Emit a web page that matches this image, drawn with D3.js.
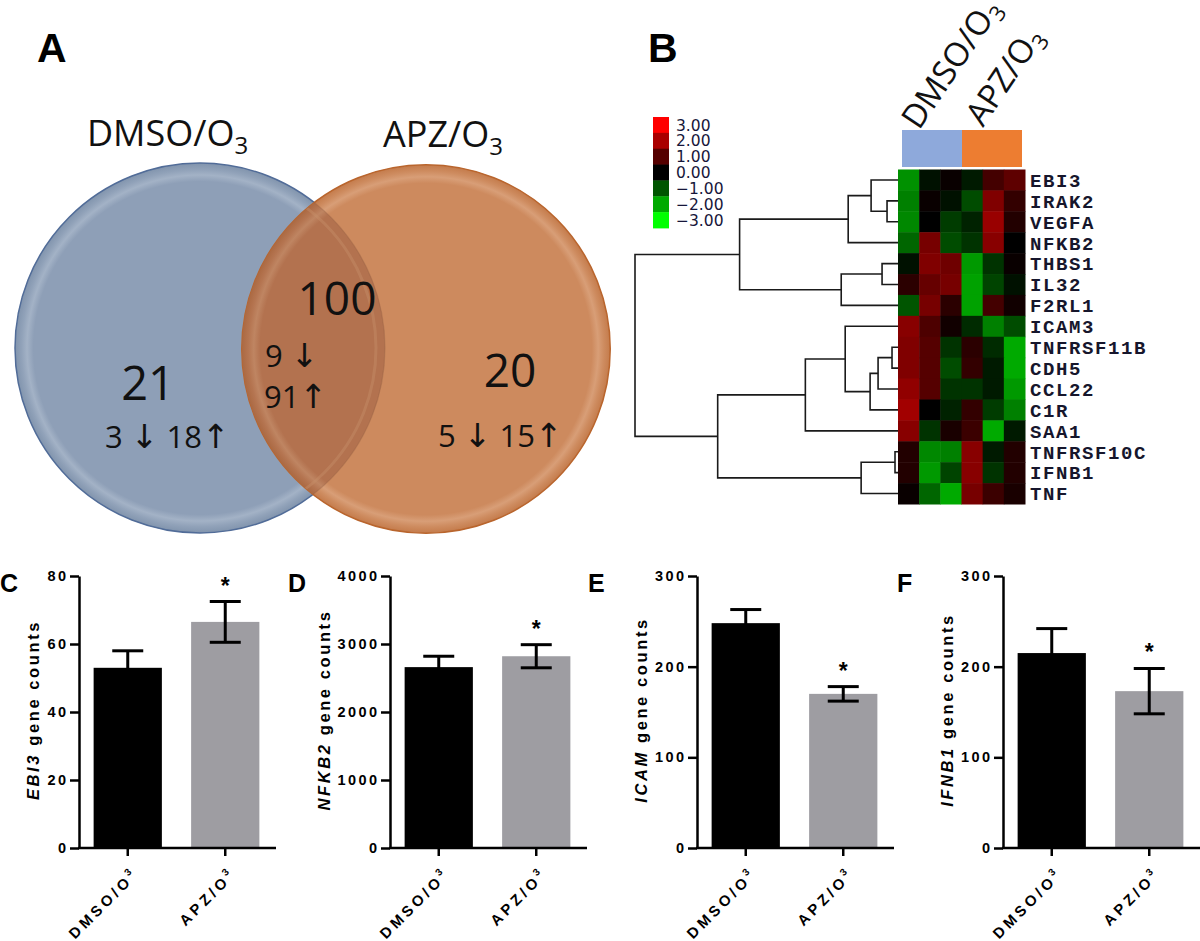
<!DOCTYPE html>
<html><head><meta charset="utf-8">
<script src="https://cdn.jsdelivr.net/npm/d3@7"></script>
<style>body{margin:0;background:#fff;} svg{display:block;}</style>
</head><body>
<svg id="chart" width="1200" height="941"></svg>
<script>
// ---------------- DATA ----------------
// Panel A: Venn
const vennSets = ["DMSO/O", "APZ/O"];
const vennRegions = ["DMSO/O3 only", "shared", "APZ/O3 only"];
const vennTotals = [21, 100, 20];
const vennDown = [3, 9, 5];
const vennUp = [18, 91, 15];

// Panel B: heatmap
const heatGroups = ["DMSO/O", "APZ/O"];
const heatSamples = ["D1", "D2", "D3", "A1", "A2", "A3"];
const heatGenes = ["EBI3", "IRAK2", "VEGFA", "NFKB2", "THBS1", "IL32", "F2RL1", "ICAM3",
  "TNFRSF11B", "CDH5", "CCL22", "C1R", "SAA1", "TNFRSF10C", "IFNB1", "TNF"];
const heatValues = [
  [-1.7, -0.2, 0.1, -0.3, 0.8, 1.1],
  [-1.5, 0.1, -0.2, -0.9, 1.5, 0.6],
  [-1.6, 0.0, -0.7, -0.4, 1.8, 0.4],
  [-1.2, 1.4, -0.9, -0.6, 1.6, 0.0],
  [-0.2, 1.5, 1.3, -1.8, -0.6, 0.1],
  [0.5, 1.2, 1.4, -1.9, -0.8, -0.2],
  [-1.0, 1.4, 0.5, -1.9, 0.8, 0.2],
  [1.6, 0.9, 0.2, -0.5, -1.5, -0.9],
  [1.5, 1.0, -0.6, 0.5, -0.5, -2.0],
  [1.5, 1.0, -0.9, 0.6, -0.3, -2.0],
  [1.7, 1.0, -0.6, -0.6, -0.3, -1.8],
  [1.9, 0.0, -0.4, 0.6, -0.7, -1.5],
  [1.6, -0.6, 0.3, 0.7, -2.0, -0.3],
  [0.4, -1.6, -1.5, 1.6, -0.3, 0.4],
  [0.4, -1.8, -0.8, 1.6, -0.6, 0.4],
  [0.1, -1.2, -2.0, 1.4, 0.7, 0.3]
];
// hierarchical clustering merges: [childA, childB, distance]
const dendroMerges = [
  ["IRAK2", "VEGFA", 11],
  ["EBI3", "n0", 27],
  ["n1", "NFKB2", 50],
  ["THBS1", "IL32", 16],
  ["n3", "F2RL1", 57],
  ["n2", "n4", 159],
  ["TNFRSF11B", "CDH5", 6],
  ["n6", "CCL22", 20],
  ["n7", "C1R", 28],
  ["ICAM3", "n8", 53],
  ["n9", "SAA1", 93],
  ["TNFRSF10C", "IFNB1", 3],
  ["n11", "TNF", 37],
  ["n10", "n12", 181],
  ["n5", "n13", 264]
];
const legendValues = [3, 2, 1, 0, -1, -2, -3];
const legendLabels = ["3.00", "2.00", "1.00", "0.00", "\u22121.00", "\u22122.00", "\u22123.00"];

// Panels C-F: bar charts
const barCategories = ["DMSO/O", "APZ/O"];
const barSignif = ["", "*"];
const ebi3Mean = [53, 66.5], ebi3Sem = [5, 6], ebi3Ticks = [0, 20, 40, 60, 80];
const nfkb2Mean = [2660, 2820], nfkb2Sem = [160, 170], nfkb2Ticks = [0, 1000, 2000, 3000, 4000];
const icamMean = [248, 170], icamSem = [15, 8], icamTicks = [0, 100, 200, 300];
const ifnb1Mean = [215, 173], ifnb1Sem = [27, 25], ifnb1Ticks = [0, 100, 200, 300];

// ---------------- DRAW ----------------
const svg = d3.select("#chart");
const defs = svg.append("defs");
const venFont = "'Open Sans', 'Liberation Sans', sans-serif";
const arialFont = "'Liberation Sans', Arial, sans-serif";

// ===== Panel A: Venn =====
svg.append("text").attr("x", 37).attr("y", 62).attr("font-family", arialFont)
  .attr("font-weight", "bold").attr("font-size", 41).text("A");

const setSizes = [vennTotals[0] + vennTotals[1], vennTotals[1] + vennTotals[2]];
const rScale = d3.scaleSqrt().domain([0, d3.max(setSizes)]).range([0, 185]);
const vennCenters = [[200, 348], [426, 349]];

function radGrad(id, stops) {
  const g = defs.append("radialGradient").attr("id", id).attr("cx", "50%").attr("cy", "50%").attr("r", "50%");
  stops.forEach(s => g.append("stop").attr("offset", s[0]).attr("stop-color", s[1]));
}
radGrad("gBlue", [["0%", "#8E9FB7"], ["90%", "#8E9FB7"], ["93.5%", "#A3B2C6"], ["96.5%", "#91A2B9"], ["100%", "#8194AD"]]);
radGrad("gOrange", [["0%", "#CD8A5E"], ["90%", "#CD8A5E"], ["93.5%", "#D89E77"], ["96.5%", "#CE8C60"], ["100%", "#C47B4B"]]);
radGrad("gOverlap", [["0%", "#B3724F"], ["90%", "#B3724F"], ["93.5%", "#BF8562"], ["96.5%", "#B57551"], ["100%", "#AB6942"]]);

defs.append("clipPath").attr("id", "clipBlue").append("circle")
  .attr("cx", vennCenters[0][0]).attr("cy", vennCenters[0][1]).attr("r", rScale(setSizes[0]));
defs.append("clipPath").attr("id", "clipOr").append("circle")
  .attr("cx", vennCenters[1][0]).attr("cy", vennCenters[1][1]).attr("r", rScale(setSizes[1]));

const vg = svg.append("g");
vg.append("circle").attr("cx", vennCenters[0][0]).attr("cy", vennCenters[0][1]).attr("r", rScale(setSizes[0]))
  .attr("fill", "url(#gBlue)").attr("stroke", "#516C98").attr("stroke-width", 1.5);
vg.append("circle").attr("cx", vennCenters[1][0]).attr("cy", vennCenters[1][1]).attr("r", rScale(setSizes[1]))
  .attr("fill", "url(#gOrange)").attr("stroke", "#B9652D").attr("stroke-width", 1.5);
vg.append("circle").attr("cx", vennCenters[1][0]).attr("cy", vennCenters[1][1]).attr("r", rScale(setSizes[1]))
  .attr("fill", "url(#gOverlap)").attr("clip-path", "url(#clipBlue)");
vg.append("circle").attr("cx", vennCenters[0][0]).attr("cy", vennCenters[0][1]).attr("r", rScale(setSizes[0]) - 9)
  .attr("fill", "none").attr("stroke", "#C9916C").attr("stroke-opacity", 0.4).attr("stroke-width", 3)
  .attr("clip-path", "url(#clipOr)");
vg.append("circle").attr("cx", vennCenters[0][0]).attr("cy", vennCenters[0][1]).attr("r", rScale(setSizes[0]))
  .attr("fill", "none").attr("stroke", "#8A5A3E").attr("stroke-opacity", 0.3).attr("stroke-width", 1.2)
  .attr("clip-path", "url(#clipOr)");

// set titles
const setTitlePos = [[87, 146], [383, 147]];
vennSets.forEach((s, i) => {
  const t = svg.append("text").attr("x", setTitlePos[i][0]).attr("y", setTitlePos[i][1])
    .attr("font-family", venFont).attr("font-size", 36).attr("fill", "#111");
  t.append("tspan").text(s);
  t.append("tspan").attr("font-size", 24).attr("dy", 8).text("3");
});

// region numbers
const totalPos = [[148, 400, 47], [337, 315, 46], [510, 387, 46]];
vennTotals.forEach((v, i) => {
  svg.append("text").attr("x", totalPos[i][0]).attr("y", totalPos[i][1]).attr("text-anchor", "middle")
    .attr("font-family", venFont).attr("font-size", totalPos[i][2]).attr("fill", "#111").text(v);
});
const arrowFont = "'DejaVu Sans', sans-serif";
[[0, 105, 448], [2, 438, 447]].forEach(([i, x, yb]) => {
  const t = svg.append("text").attr("x", x).attr("y", yb).attr("font-family", venFont)
    .attr("font-size", 31).attr("fill", "#111");
  t.append("tspan").text(vennDown[i] + " ");
  t.append("tspan").attr("font-family", arrowFont).attr("font-size", 33).text("\u2193");
  t.append("tspan").text("  " + vennUp[i]);
  t.append("tspan").attr("font-family", arrowFont).attr("font-size", 33).text("\u2191");
});
{
  const t1 = svg.append("text").attr("x", 265).attr("y", 367).attr("font-family", venFont)
    .attr("font-size", 31).attr("fill", "#111");
  t1.append("tspan").text(vennDown[1] + " ");
  t1.append("tspan").attr("font-family", arrowFont).attr("font-size", 33).text("\u2193");
  const t2 = svg.append("text").attr("x", 264).attr("y", 408).attr("font-family", venFont)
    .attr("font-size", 31).attr("fill", "#111");
  t2.append("tspan").text(vennUp[1]);
  t2.append("tspan").attr("font-family", arrowFont).attr("font-size", 33).text("\u2191");
}

// ===== Panel B: Heatmap =====
svg.append("text").attr("x", 648).attr("y", 62).attr("font-family", arialFont)
  .attr("font-weight", "bold").attr("font-size", 41).text("B");

const hx = d3.scaleBand().domain(heatSamples).range([898, 1025]);
const hy = d3.scaleBand().domain(heatGenes).range([169.5, 504]);
const hColor = d3.scaleLinear().domain([-3, 0, 3]).range(["#00ff00", "#000000", "#ff0000"]).clamp(true);

const cells = [];
heatValues.forEach((row, r) => row.forEach((v, c) => cells.push({ gene: heatGenes[r], sample: heatSamples[c], v })));
svg.append("g").selectAll("rect").data(cells).join("rect")
  .attr("x", d => hx(d.sample)).attr("y", d => hy(d.gene))
  .attr("width", hx.bandwidth() + 0.5).attr("height", hy.bandwidth() + 0.5)
  .attr("fill", d => hColor(d.v));

const hgx = d3.scaleBand().domain(heatGroups).range([902, 1022]);
const groupColors = ["#8EA9DB", "#ED7D31"];
svg.append("g").selectAll("rect").data(heatGroups).join("rect")
  .attr("x", d => hgx(d)).attr("y", 130).attr("width", hgx.bandwidth()).attr("height", 37)
  .attr("fill", (d, i) => groupColors[i]);
const headPos = [[919, 131], [983, 128]];
heatGroups.forEach((g, i) => {
  const t = svg.append("text").attr("transform", `translate(${headPos[i][0]},${headPos[i][1]}) rotate(-56)`)
    .attr("font-family", venFont).attr("font-size", 33).attr("fill", "#111");
  t.append("tspan").text(g);
  t.append("tspan").attr("font-size", 22).attr("dy", 7).text("3");
});

svg.append("g").selectAll("text").data(heatGenes).join("text")
  .attr("x", 1030).attr("y", d => hy(d) + hy.bandwidth() / 2).attr("dy", "0.36em")
  .attr("font-family", "'Liberation Mono', 'DejaVu Sans Mono', monospace").attr("font-weight", "bold")
  .attr("font-size", 19).attr("letter-spacing", 1.6).attr("fill", "#16162c").text(d => d);

const dx = d3.scaleLinear().domain([0, 264]).range([898, 635]);
const nodePos = {};
heatGenes.forEach(gn => nodePos[gn] = { x: dx(0), y: hy(gn) + hy.bandwidth() / 2 });
const dPaths = [];
dendroMerges.forEach(([a, b, h], i) => {
  const pa = nodePos[a], pb = nodePos[b];
  const nx = dx(h);
  nodePos["n" + i] = { x: nx, y: (pa.y + pb.y) / 2 };
  dPaths.push(`M${pa.x},${pa.y}H${nx}V${pb.y}H${pb.x}`);
});
svg.append("g").selectAll("path").data(dPaths).join("path")
  .attr("d", d => d).attr("fill", "none").attr("stroke", "#1a1a1a").attr("stroke-width", 1.6);

const ly = d3.scaleBand().domain(legendValues).range([117, 228]);
const lg = svg.append("g");
lg.selectAll("rect").data(legendValues).join("rect")
  .attr("x", 653).attr("y", d => ly(d)).attr("width", 16).attr("height", ly.bandwidth() + 0.4)
  .attr("fill", d => hColor(d));
lg.selectAll("text").data(legendValues).join("text")
  .attr("x", 676).attr("y", d => ly(d) + ly.bandwidth() / 2).attr("dy", "0.36em")
  .attr("font-family", "'DejaVu Sans', Verdana, sans-serif").attr("font-size", 15.5)
  .attr("fill", "#16163a").text((d, i) => legendLabels[i]);

// ===== Panels C-F: bar charts =====
const panels = [
  { letter: "C", lx: 0, gene: "EBI3", mean: ebi3Mean, sem: ebi3Sem, ticks: ebi3Ticks, x0: 79 },
  { letter: "D", lx: 288, gene: "NFKB2", mean: nfkb2Mean, sem: nfkb2Sem, ticks: nfkb2Ticks, x0: 390 },
  { letter: "E", lx: 588, gene: "ICAM", mean: icamMean, sem: icamSem, ticks: icamTicks, x0: 697 },
  { letter: "F", lx: 897, gene: "IFNB1", mean: ifnb1Mean, sem: ifnb1Sem, ticks: ifnb1Ticks, x0: 1003 }
];
const barFill = ["#000000", "#9E9DA2"];
const yTop = 576, yBot = 848;

panels.forEach(p => {
  const g = svg.append("g");
  const y = d3.scaleLinear().domain([0, d3.max(p.ticks)]).range([yBot, yTop]);
  const x = d3.scaleBand().domain(barCategories).range([p.x0, p.x0 + 195]).paddingInner(0.3).paddingOuter(0.15);

  g.append("text").attr("x", p.lx).attr("y", 592).attr("font-family", arialFont)
    .attr("font-weight", "bold").attr("font-size", 25).text(p.letter);

  g.selectAll("rect.bar").data(barCategories).join("rect").attr("class", "bar")
    .attr("x", d => x(d)).attr("width", x.bandwidth())
    .attr("y", (d, i) => y(p.mean[i])).attr("height", (d, i) => y(0) - y(p.mean[i]))
    .attr("fill", (d, i) => barFill[i]);

  const eb = g.selectAll("g.err").data(barCategories).join("g").attr("class", "err");
  eb.append("line").attr("x1", d => x(d) + x.bandwidth() / 2).attr("x2", d => x(d) + x.bandwidth() / 2)
    .attr("y1", (d, i) => y(p.mean[i] - p.sem[i])).attr("y2", (d, i) => y(p.mean[i] + p.sem[i]));
  eb.append("line").attr("x1", d => x(d) + x.bandwidth() / 2 - 15.5).attr("x2", d => x(d) + x.bandwidth() / 2 + 15.5)
    .attr("y1", (d, i) => y(p.mean[i] + p.sem[i])).attr("y2", (d, i) => y(p.mean[i] + p.sem[i]));
  eb.append("line").attr("x1", d => x(d) + x.bandwidth() / 2 - 15.5).attr("x2", d => x(d) + x.bandwidth() / 2 + 15.5)
    .attr("y1", (d, i) => y(p.mean[i] - p.sem[i])).attr("y2", (d, i) => y(p.mean[i] - p.sem[i]));
  eb.selectAll("line").attr("stroke", "#000").attr("stroke-width", 3);

  g.selectAll("text.sig").data(barCategories).join("text").attr("class", "sig")
    .attr("x", d => x(d) + x.bandwidth() / 2).attr("y", (d, i) => y(p.mean[i] + p.sem[i]) - 8)
    .attr("text-anchor", "middle").attr("font-family", arialFont).attr("font-weight", "bold")
    .attr("font-size", 23).text((d, i) => barSignif[i]);

  const ya = g.append("g").attr("transform", `translate(${p.x0},0)`)
    .call(d3.axisLeft(y).tickValues(p.ticks).tickFormat(d3.format("d")).tickSize(9).tickSizeOuter(0).tickPadding(4));
  ya.selectAll("path, line").attr("stroke", "#000").attr("stroke-width", 2.5);
  ya.selectAll("text").attr("font-family", arialFont).attr("font-weight", "bold").attr("font-size", 14.5)
    .attr("letter-spacing", 2.4).attr("fill", "#000").attr("dx", 2.4);

  const xa = g.append("g").attr("transform", `translate(0,${yBot})`)
    .call(d3.axisBottom(x).tickSize(8).tickSizeOuter(0).tickFormat(""));
  xa.select(".domain").attr("d", `M${p.x0 - 1},0H${p.x0 + 197}`);
  xa.selectAll("path, line").attr("stroke", "#000").attr("stroke-width", 2.5);

  barCategories.forEach(c => {
    const t = g.append("text")
      .attr("transform", `translate(${x(c) + x.bandwidth() / 2 + 12},${yBot + 27}) rotate(-45)`)
      .attr("text-anchor", "end").attr("font-family", arialFont).attr("font-weight", "bold")
      .attr("font-size", 15).attr("letter-spacing", 3.6).attr("fill", "#000");
    t.append("tspan").text(c);
    t.append("tspan").attr("font-size", 10).attr("dy", -7).text("3");
  });

  const bb = ya.node().getBBox();
  const tx = p.x0 + bb.x - 8;
  const title = g.append("text").attr("transform", `translate(${tx},${(yTop + yBot) / 2 - 2}) rotate(-90)`)
    .attr("text-anchor", "middle").attr("font-family", arialFont).attr("font-weight", "bold")
    .attr("font-size", 16.5).attr("letter-spacing", 2.6).attr("fill", "#000");
  title.append("tspan").attr("font-style", "italic").text(p.gene);
  title.append("tspan").text(" gene counts");
});
</script>
</body></html>
